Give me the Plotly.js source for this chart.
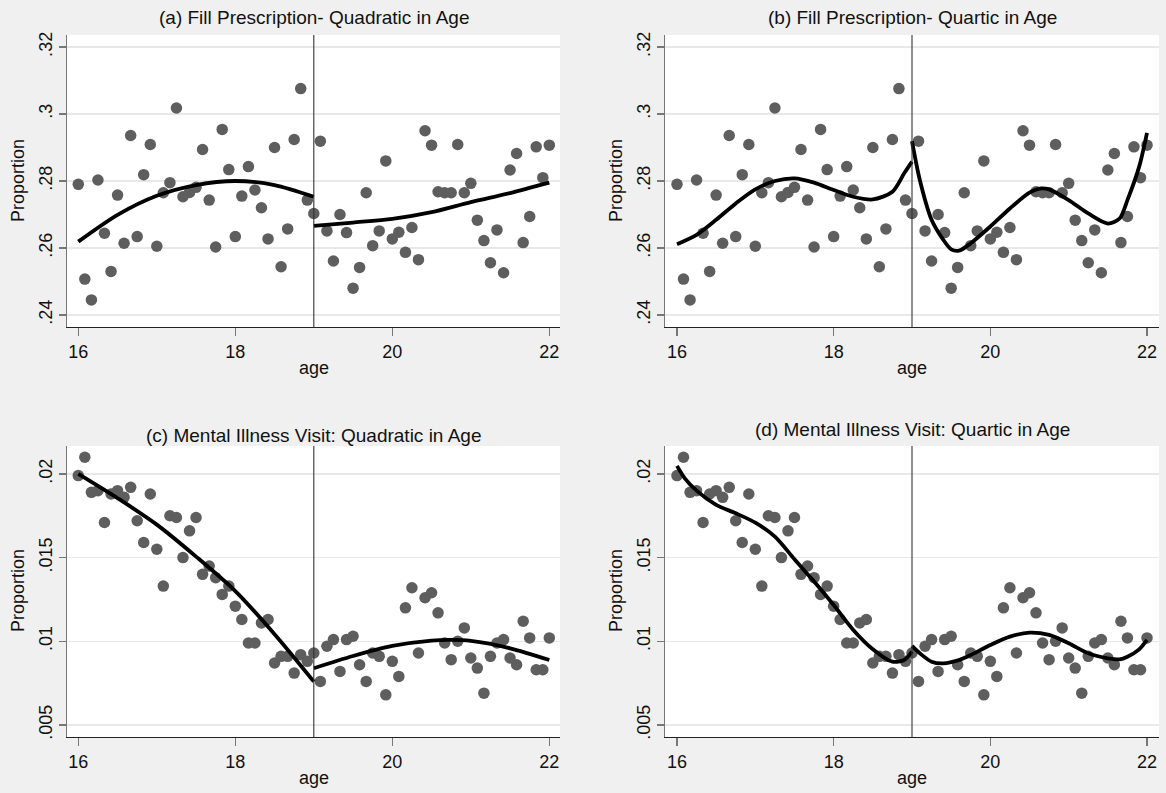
<!DOCTYPE html>
<html>
<head>
<meta charset="utf-8">
<script src="https://cdn.plot.ly/plotly-3.0.1.min.js"></script>
<style>html,body{margin:0;padding:0;background:#f0f0f0;}#chart{width:1166px;height:793px;}</style>
</head>
<body>
<div id="chart"></div>
<script>
// ---- data ----
const ages = [16.000,16.083,16.167,16.250,16.333,16.417,16.500,16.583,16.667,16.750,16.833,16.917,
  17.000,17.083,17.167,17.250,17.333,17.417,17.500,17.583,17.667,17.750,17.833,17.917,
  18.000,18.083,18.167,18.250,18.333,18.417,18.500,18.583,18.667,18.750,18.833,18.917,
  19.000,19.083,19.167,19.250,19.333,19.417,19.500,19.583,19.667,19.750,19.833,19.917,
  20.000,20.083,20.167,20.250,20.333,20.417,20.500,20.583,20.667,20.750,20.833,20.917,
  21.000,21.083,21.167,21.250,21.333,21.417,21.500,21.583,21.667,21.750,21.833,21.917,
  22.000];

const fillRx = [0.2790,0.2507,0.2445,0.2803,0.2644,0.2530,0.2758,0.2614,0.2936,0.2634,0.2819,0.2909,
  0.2605,0.2765,0.2795,0.3018,0.2753,0.2766,0.2781,0.2894,0.2743,0.2603,0.2954,0.2834,
  0.2634,0.2755,0.2843,0.2773,0.2720,0.2627,0.2900,0.2544,0.2657,0.2924,0.3076,0.2743,
  0.2703,0.2919,0.2651,0.2561,0.2700,0.2646,0.2480,0.2542,0.2765,0.2607,0.2651,0.2860,
  0.2627,0.2647,0.2587,0.2661,0.2565,0.2950,0.2907,0.2768,0.2765,0.2765,0.2909,0.2765,
  0.2793,0.2683,0.2622,0.2556,0.2654,0.2526,0.2833,0.2882,0.2616,0.2694,0.2902,0.2810,
  0.2907];

const mentalVisit = [0.0199,0.0210,0.0189,0.0190,0.0171,0.0188,0.0190,0.0186,0.0192,0.0172,0.0159,0.0188,
  0.0155,0.0133,0.0175,0.0174,0.0150,0.0166,0.0174,0.0140,0.0145,0.0138,0.0128,0.0133,
  0.0121,0.0113,0.0099,0.0099,0.0111,0.0113,0.0087,0.0091,0.0091,0.0081,0.0092,0.0088,
  0.0093,0.0076,0.0097,0.0101,0.0082,0.0101,0.0103,0.0086,0.0076,0.0093,0.0091,0.0068,
  0.0088,0.0079,0.0120,0.0132,0.0093,0.0126,0.0129,0.0117,0.0099,0.0089,0.0100,0.0108,
  0.0090,0.0084,0.0069,0.0091,0.0099,0.0101,0.0090,0.0086,0.0112,0.0102,0.0083,0.0083,
  0.0102];

// fitted lines
const aLeftAge = [16,16.5,17,17.5,18,18.5,19];
const aLeftFit = [0.2619,0.2699,0.2756,0.2788,0.2800,0.2788,0.2753];
const aRightAge = [19,19.5,20,20.5,21,21.5,22];
const aRightFit = [0.2666,0.2676,0.2687,0.2707,0.2737,0.2764,0.2795];

const bLeftAge = [16,16.25,16.5,16.75,17,17.25,17.5,17.75,18,18.25,18.5,18.75,18.9,19];
const bLeftFit = [0.2611,0.2639,0.2684,0.2733,0.2775,0.2800,0.2808,0.2795,0.2773,0.2753,0.2745,0.2768,0.2823,0.2858];
const bRightAge = [19,19.1,19.25,19.4,19.5,19.6,19.75,20,20.25,20.5,20.65,20.75,21,21.25,21.5,21.65,21.75,21.9,22];
const bRightFit = [0.2919,0.2803,0.2684,0.2624,0.2596,0.2592,0.2614,0.2664,0.2718,0.2765,0.2778,0.2775,0.2743,0.2703,0.2673,0.2688,0.2743,0.2843,0.2944];

const cLeftAge = [16,16.5,17,17.5,18,18.5,19];
const cLeftFit = [0.0200,0.01855,0.01697,0.01506,0.01300,0.01042,0.00759];
const cRightAge = [19,19.5,20,20.5,20.75,21,21.5,22];
const cRightFit = [0.00839,0.00912,0.00972,0.01004,0.01008,0.01002,0.00958,0.00888];

const dLeftAge = [16,16.1,16.25,16.5,16.75,17,17.25,17.5,17.75,18,18.25,18.5,18.75,18.9,19];
const dLeftFit = [0.02048,0.01974,0.0190,0.01815,0.01765,0.01709,0.01625,0.0149,0.01357,0.01217,0.01068,0.00953,0.00878,0.00888,0.00938];
const dRightAge = [19,19.1,19.25,19.4,19.6,19.75,20,20.25,20.5,20.75,21,21.25,21.5,21.65,21.75,21.9,22];
const dRightFit = [0.00972,0.00928,0.00878,0.00868,0.00888,0.00918,0.00978,0.01028,0.01052,0.01038,0.00988,0.00928,0.00898,0.00892,0.00908,0.00952,0.01008];

const panelTitles = ["(a) Fill Prescription- Quadratic in Age","(b) Fill Prescription- Quartic in Age",
  "(c) Mental Illness Visit: Quadratic in Age","(d) Mental Illness Visit: Quartic in Age"];
const xTickVals = [16,18,20,22];
const xTickText = ["16","18","20","22"];
const yTopVals = [0.24,0.26,0.28,0.30,0.32];
const yTopText = [".24",".26",".28",".3",".32"];
const yBotVals = [0.005,0.01,0.015,0.02];
const yBotText = [".005",".01",".015",".02"];
const cutoffAge = 19;
const xLabel = "age";
const yLabel = "Proportion";

// ---- layout geometry ----
const W = 1166, H = 793;
const FONT = "Liberation Sans, Arial, Helvetica, sans-serif";
const colL = [67/W, 560/W], colR = [665/W, 1159/W];
const rowT = [1-327/H, 1-35/H], rowB = [1-737/H, 1-446/H];

const dotStyle = {color:'#5e5e5e', size:11.5, line:{width:0}};
const lineStyle = {color:'#000', width:3.8, shape:'spline', smoothing:0.8};

function scatter(y, ax){ return {x:ages, y:y, type:'scatter', mode:'markers', marker:dotStyle, xaxis:'x'+ax, yaxis:'y'+ax, hoverinfo:'skip'}; }
function fit(x, y, ax){ return {x:x, y:y, type:'scatter', mode:'lines', line:lineStyle, xaxis:'x'+ax, yaxis:'y'+ax, hoverinfo:'skip'}; }

const data = [
  scatter(fillRx,''), fit(aLeftAge,aLeftFit,''), fit(aRightAge,aRightFit,''),
  scatter(fillRx,'2'), fit(bLeftAge,bLeftFit,'2'), fit(bRightAge,bRightFit,'2'),
  scatter(mentalVisit,'3'), fit(cLeftAge,cLeftFit,'3'), fit(cRightAge,cRightFit,'3'),
  scatter(mentalVisit,'4'), fit(dLeftAge,dLeftFit,'4'), fit(dRightAge,dRightFit,'4')
];

function xax(domain, anchor, range){
  return {domain:domain, anchor:anchor, range:range, tickmode:'array', tickvals:xTickVals, ticktext:xTickText,
    ticks:'outside', ticklen:8, tickwidth:1.2, tickcolor:'#777', showline:true, linecolor:'#222', linewidth:1.3,
    showgrid:false, zeroline:false, tickfont:{family:FONT, size:18, color:'#111'}, fixedrange:true};
}
function yax(domain, anchor, range, vals, text){
  return {domain:domain, anchor:anchor, range:range, tickmode:'array', tickvals:vals, ticktext:text, tickangle:-90,
    ticks:'outside', ticklen:7, tickwidth:1.2, tickcolor:'#777', showline:true, linecolor:'#777', linewidth:1.3,
    showgrid:true, gridcolor:'#e8e8e8', gridwidth:1.5, zeroline:false, tickfont:{family:FONT, size:18, color:'#111'}, fixedrange:true};
}
const yTopRange = [0.2364, 0.3236];
const yBotRange = [0.00428, 0.02167];

const layout = {
  width:W, height:H, margin:{l:0,r:0,t:0,b:0}, showlegend:false,
  paper_bgcolor:'#f0f0f0', plot_bgcolor:'#ffffff',
  font:{family:FONT, color:'#111'},
  xaxis: xax(colL,'y',[15.856,22.136]),
  yaxis: yax(rowT,'x',yTopRange,yTopVals,yTopText),
  xaxis2: xax(colR,'y2',[15.847,22.153]),
  yaxis2: yax(rowT,'x2',yTopRange,yTopVals,yTopText),
  xaxis3: xax(colL,'y3',[15.856,22.136]),
  yaxis3: yax(rowB,'x3',yBotRange,yBotVals,yBotText),
  xaxis4: xax(colR,'y4',[15.847,22.153]),
  yaxis4: yax(rowB,'x4',yBotRange,yBotVals,yBotText),
  shapes: ['x','x2','x3','x4'].map((xa,i)=>({type:'line', xref:xa, yref:(i===0?'y':'y'+(i+1))+' domain',
      x0:cutoffAge, x1:cutoffAge, y0:0, y1:1, line:{color:'#333', width:1.1}})),
  annotations: []
};

const cx = [ (colL[0]+colL[1])/2, (colR[0]+colR[1])/2 ];
const titleY = [1-18/H, 1-18/H, 1-435/H, 1-429/H];
const titleX = [cx[0], cx[1], cx[0], cx[1]];
panelTitles.forEach((t,i)=>layout.annotations.push({text:t, xref:'paper', yref:'paper', x:titleX[i], y:titleY[i],
  xanchor:'center', yanchor:'middle', showarrow:false, font:{family:FONT, size:19, color:'#111'}}));
// axis titles
[[cx[0],1-368/H],[cx[1],1-368/H],[cx[0],1-778/H],[cx[1],1-778/H]].forEach(p=>layout.annotations.push({text:xLabel,
  xref:'paper', yref:'paper', x:p[0], y:p[1], xanchor:'center', yanchor:'middle', showarrow:false, font:{family:FONT, size:18, color:'#111'}}));
[[18/W,1-181/H],[616/W,1-181/H],[18/W,1-591/H],[616/W,1-591/H]].forEach(p=>layout.annotations.push({text:yLabel,
  xref:'paper', yref:'paper', x:p[0], y:p[1], xanchor:'center', yanchor:'middle', textangle:-90, showarrow:false, font:{family:FONT, size:18, color:'#111'}}));

Plotly.newPlot('chart', data, layout, {staticPlot:true, displayModeBar:false});
</script>
</body>
</html>
